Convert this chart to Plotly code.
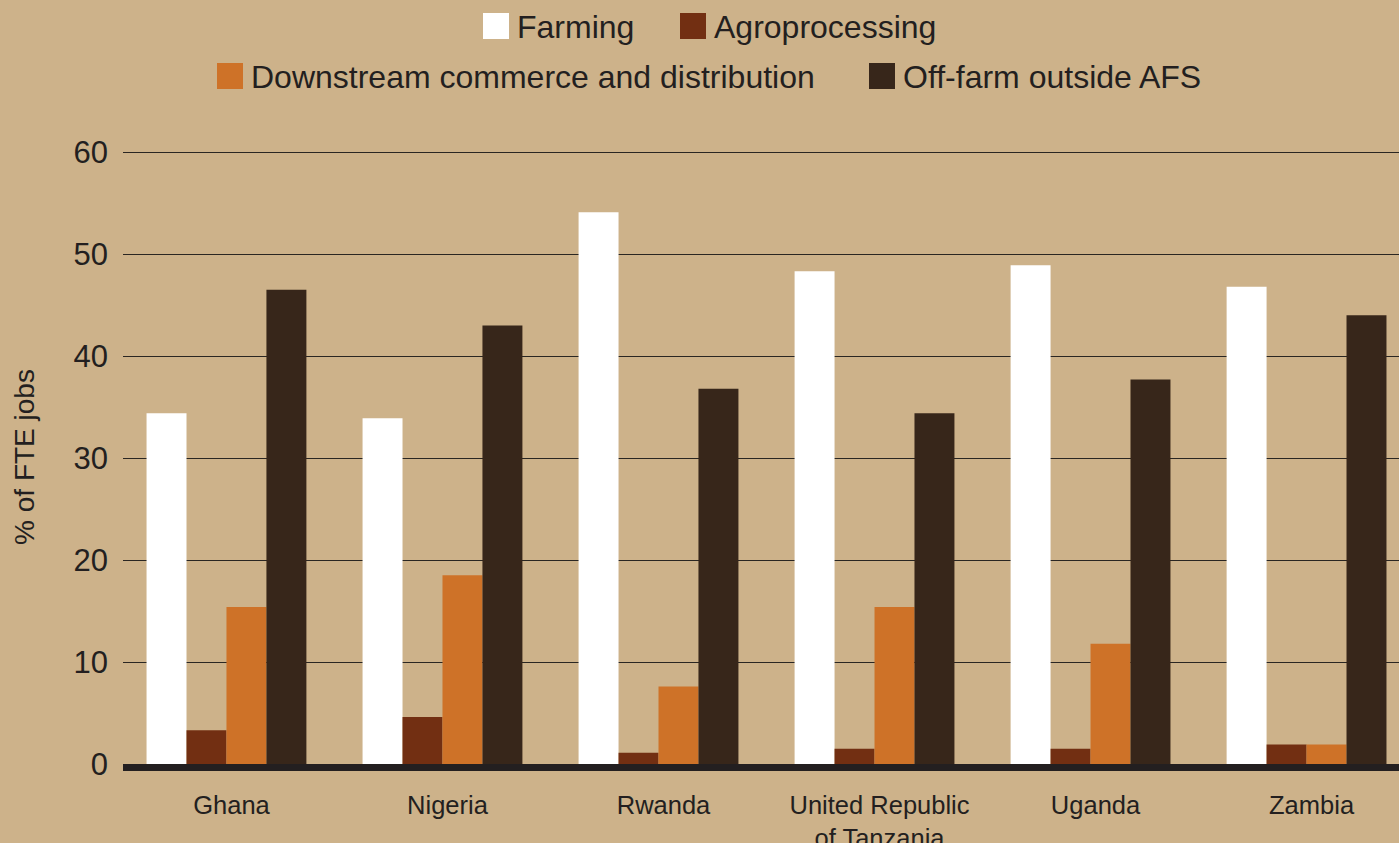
import plotly.graph_objects as go

# Dados
countries = ['Ghana', 'Nigeria', 'Rwanda', 'United Republic<br>of Tanzania', 'Uganda', 'Zambia']
series_names = ['Farming', 'Agroprocessing', 'Downstream commerce and distribution', 'Off-farm outside AFS']
farming = [34.4, 33.9, 54.1, 48.3, 48.9, 46.8]
agroprocessing = [3.3, 4.6, 1.1, 1.5, 1.5, 1.9]
downstream = [15.4, 18.5, 7.6, 15.4, 11.8, 1.9]
off_farm = [46.5, 43.0, 36.8, 34.4, 37.7, 44.0]
y_ticks = [0, 10, 20, 30, 40, 50, 60]

colors = ['#FFFFFF', '#722F12', '#CE7228', '#37261A']
bg = '#CDB28A'
ink = '#231F20'
font_family = 'Liberation Sans, Arial, sans-serif'

W, H = 1399, 843
ML, MR, MT, MB = 123, 0, 150, 79
Y_TOP = 60.2  # um pouco acima de 60 para a linha de grade do 60 aparecer

fig = go.Figure()
for name, vals, col in zip(series_names, [farming, agroprocessing, downstream, off_farm], colors):
    fig.add_trace(go.Bar(x=list(range(len(countries))), y=vals, name=name,
                         marker=dict(color=col, line=dict(width=0)), showlegend=False))

# Legenda manual (quadrados grandes), posicionada em pixels
def px_x(x):
    return (x - ML) / (W - ML - MR)

def px_y(y):
    return 1 + (MT - y) / (H - MT - MB)

legend_items = [
    (series_names[0], colors[0], 483, 26),
    (series_names[1], colors[1], 680, 26),
    (series_names[2], colors[2], 217, 76),
    (series_names[3], colors[3], 869, 76),
]
for name, col, x0, yc in legend_items:
    fig.add_shape(type='rect', xref='paper', yref='paper',
                  x0=px_x(x0), x1=px_x(x0 + 26), y0=px_y(yc + 13), y1=px_y(yc - 13),
                  fillcolor=col, line=dict(width=0))
    fig.add_annotation(xref='paper', yref='paper', x=px_x(x0 + 32), y=px_y(yc + 1),
                       text=name, showarrow=False, xanchor='left', yanchor='middle',
                       font=dict(size=32, color=ink, family=font_family))

fig.update_layout(
    width=W, height=H,
    margin=dict(l=ML, r=MR, t=MT, b=MB, autoexpand=False),
    paper_bgcolor=bg, plot_bgcolor=bg,
    barmode='group', bargap=0.26, bargroupgap=0,
    font=dict(family=font_family, color=ink),
    showlegend=False,
)
fig.update_xaxes(
    tickmode='array', tickvals=list(range(len(countries))), ticktext=countries,
    range=[-0.479, 5.428], showgrid=False, zeroline=False, automargin=False,
    showline=True, linewidth=7, linecolor=ink,
    ticks='', tickfont=dict(size=25.5, color=ink), ticklabelstandoff=12, ticklabelshift=5,
)
fig.update_yaxes(
    range=[0, Y_TOP], tickvals=y_ticks, showgrid=True, gridcolor='#2A2622', gridwidth=1,
    zeroline=False, showline=False, ticks='', automargin=False,
    tickfont=dict(size=31, color=ink), ticklabelstandoff=14,
    title=dict(text='% of FTE jobs', font=dict(size=28, color=ink), standoff=30),
)

fig.write_html('out.html', config={'displayModeBar': False},
               post_script="document.body.style.margin='0';")
